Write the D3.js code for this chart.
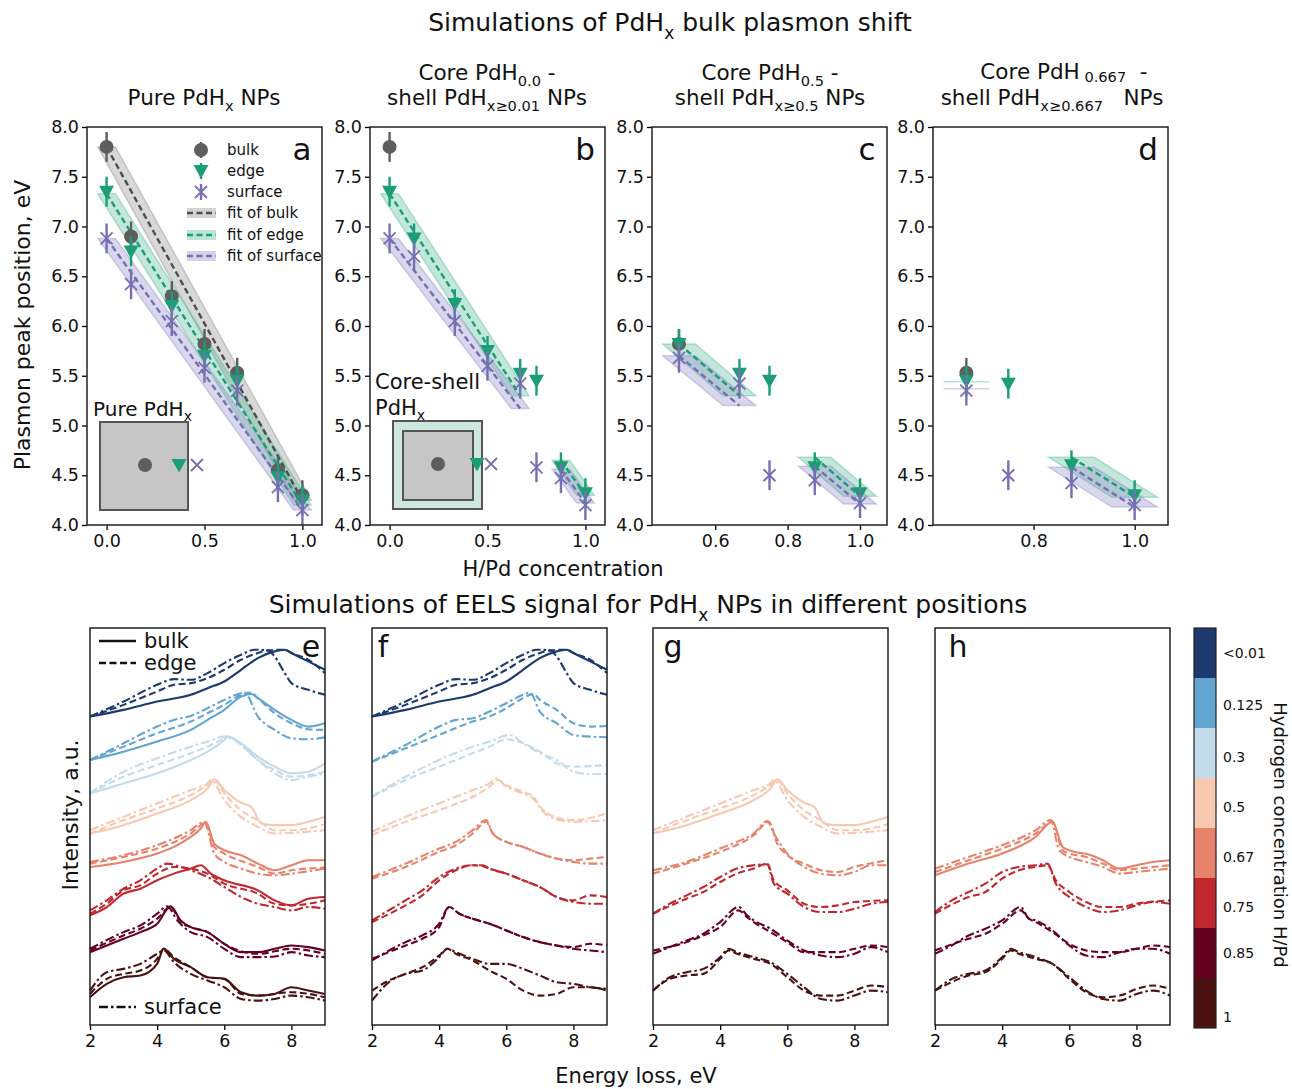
<!DOCTYPE html>
<html><head><meta charset="utf-8">
<script src="https://cdn.jsdelivr.net/npm/d3@7"></script>
<style>body{margin:0;background:#fff} text{font-family:"DejaVu Sans",sans-serif;fill:#111;white-space:pre}</style>
</head><body><svg id="c" width="1292" height="1089"></svg>
<script>
// ---------- top panels data (plasmon peak position, eV) ----------
const concA = [0, 0.125, 0.333, 0.5, 0.667, 0.875, 1.0];
const bulkA = [7.8, 6.9, 6.3, 5.82, 5.53, 4.55, 4.3];
const edgeA = [7.35, 6.75, 6.2, 5.7, 5.45, 4.48, 4.25];
const surfA = [6.88, 6.42, 6.05, 5.58, 5.35, 4.38, 4.15];

const concB = [0, 0.125, 0.333, 0.5, 0.667, 0.75, 0.875, 1.0];
const bulkBx = [0], bulkB = [7.8];
const edgeB = [7.35, 6.88, 6.22, 5.75, 5.52, 5.45, 4.58, 4.32];
const surfB = [6.88, 6.7, 6.05, 5.6, 5.42, 4.58, 4.47, 4.2];

const concC = [0.5, 0.667, 0.75, 0.875, 1.0];
const bulkCx = [0.5], bulkC = [5.82];
const edgeC = [5.82, 5.52, 5.45, 4.58, 4.32];
const surfC = [5.68, 5.42, 4.5, 4.45, 4.22];

const concD = [0.667, 0.75, 0.875, 1.0];
const bulkDx = [0.667], bulkD = [5.53];
const edgeD = [5.45, 5.42, 4.6, 4.3];
const surfD = [5.35, 4.5, 4.42, 4.2];

const errHalf = 0.15;      // eV
const bandHalf = 0.045;    // H/Pd
// fits: [kind, x0, y0, x1, y1]
const fitsA = [["bulk",0,7.8,1,4.25],["edge",0,7.33,1,4.2],["surf",0,6.88,1,4.15]];
const fitsB = [["edge",0,7.33,0.667,5.3],["surf",0,6.88,0.667,5.17],["edge",0.875,4.65,1,4.3],["surf",0.875,4.56,1,4.22]];
const fitsC = [["edge",0.5,5.82,0.667,5.3],["surf",0.5,5.7,0.667,5.2],["edge",0.875,4.68,1,4.29],["surf",0.875,4.59,1,4.21]];
const fitsD = [["edge",0.667,5.44,0.667,5.44],["surf",0.667,5.37,0.667,5.37],["edge",0.875,4.68,1,4.28],["surf",0.875,4.58,1,4.18]];

const yTicksTop = [4.0,4.5,5.0,5.5,6.0,6.5,7.0,7.5,8.0];
const xTicksAB = [0.0,0.5,1.0], xTicksC = [0.6,0.8,1.0], xTicksD = [0.8,1.0];

// ---------- bottom panels data (EELS intensity, a.u.) ----------
const c001_b = [[2,91],[3,93],[4,95.5],[5,97.5],[5.5,99.5],[6,101.5],[6.5,105],[7,108.5],[7.5,110.5],[7.8,111],[8,110],[8.5,107.5],[9,105]];
const c001_e = [[2,91],[3,94.5],[4,98.5],[4.5,100.5],[5,101],[5.5,102.5],[6,105],[6.5,108],[7,110],[7.3,110.8],[7.8,111],[8,110],[8.5,108],[9,104]];
const c001_s = [[2,91],[3,95.5],[4,100.5],[4.5,102.2],[5,102],[5.5,104],[6,107],[6.5,109.5],[6.9,111],[7.3,110.8],[7.5,109],[7.8,104],[8,101],[8.5,99],[9,97.5]];
const c0125_b = [[2,78],[3,80.5],[4,83.5],[5,87],[5.5,90],[6,93],[6.5,97],[6.8,97.8],[7,96.5],[7.5,93],[8,90],[8.5,88],[9,89]];
const c0125_e = [[2,78],[3,82],[4,86],[5,89.5],[5.5,92],[6,94.5],[6.5,97.5],[6.8,98.2],[7,96.5],[7.5,92],[8,89],[8.5,87.2],[9,87]];
const c0125_s = [[2,78],[3,83],[4,88],[4.5,90],[5,91.2],[5.5,93.5],[6,96],[6.5,98],[6.6,98.2],[7,91],[7.5,87],[8,84.5],[8.5,84.2],[9,84.8]];
const c03_b = [[2,68],[3,71],[4,74],[5,78],[5.5,80.5],[6,84],[6.1,85],[6.5,83],[7,79],[7.5,76],[8,74],[8.5,74.5],[9,77]];
const c03_e = [[2,68],[3,73],[4,76.5],[5,80],[5.5,82],[6,84.5],[6.1,85],[6.5,82.5],[7,78],[7.5,75],[8,73],[9,74.5]];
const c03_s = [[2,68],[3,74.5],[4,78.5],[5,82],[5.5,83.5],[6,85],[6.3,84],[7,78],[7.5,74],[8,72],[8.5,73],[9,74]];
const c05_b = [[2,56],[3,58.5],[4,62],[5,66],[5.5,69.5],[5.7,72.2],[6,69],[6.5,65.2],[6.8,64],[7.1,59],[7.5,58.5],[8,58.5],[8.5,59.5],[9,61]];
const c05_e = [[2,56],[3,60],[4,63.5],[5,67.5],[5.5,70.5],[5.7,72],[6,68],[6.5,63],[7,60],[7.5,57],[8,57],[9,58.8]];
const c05_s = [[2,57],[3,61],[4,65],[5,69],[5.5,71],[5.6,72],[6,66],[6.5,61],[7,58],[7.5,56],[8,56.2],[9,57]];
const c067_b = [[2,46],[3,47.5],[4,50],[4.5,52],[5,55],[5.3,57.5],[5.45,59.5],[5.7,53],[6,51],[6.5,49.5],[7,47],[7.5,45],[8,46.5],[8.5,48],[9,48]];
const c067_e = [[2,47],[3,49],[4,51.5],[5,56],[5.45,59.2],[5.7,52],[6,50],[7,46],[7.5,44],[8,45],[9,45.8]];
const c067_s = [[2,47.5],[3,49.5],[4,52.5],[5,57],[5.4,59.5],[5.7,50],[6,47.5],[6.5,45.5],[7,44],[7.5,43.5],[8,44],[9,45.5]];
const c075_b = [[2,31.5],[2.5,34],[3,38],[3.5,39.5],[4,42],[4.5,44],[5,45.5],[5.3,46.5],[5.6,44],[6,42],[7,39],[7.5,36],[8,34.5],[8.5,36.5],[9,37]];
const c075_e = [[2,32],[2.5,35],[3,39],[3.5,40.5],[4,44],[4.5,46],[5,45.5],[5.5,44],[6,41],[7,38],[7.5,35],[8,34.5],[9,36]];
const c075_s = [[2,33],[2.5,36],[3,39.5],[3.5,42],[4,45.5],[4.3,47],[4.7,46],[5,45],[5.5,43],[6,40],[6.5,37],[7,35],[7.5,34],[8,33],[8.5,34],[9,33.5]];
const c085_b = [[2,20.5],[2.5,22.5],[3,24.5],[3.5,26.5],[4,29],[4.4,34.2],[4.7,30],[5,28],[5.5,26.5],[6,23],[6.5,20.5],[7,20.5],[7.5,21.5],[8,22.5],[8.5,22],[9,21]];
const c085_e = [[2,21],[3,25.5],[3.5,27.5],[4,30.5],[4.4,34],[4.7,29.5],[5,28],[5.5,26.5],[6,23],[7,20],[8,21.5],[9,20]];
const c085_s = [[2,21.5],[3,26.5],[3.5,28.5],[4,32],[4.3,34.2],[4.6,30],[5,26.5],[5.5,25],[6,21.5],[6.5,19],[7,19],[7.5,19.2],[8,20.5],[8.5,19.5],[9,19]];
const c1_b = [[2,7],[2.5,11],[3,13],[3.5,13.5],[4,17],[4.2,21.5],[4.5,18.5],[5,16],[5.5,13],[6,12.5],[6.5,8.5],[7,7.5],[7.5,8],[8,10],[8.5,9],[9,8]];
const c1_e = [[2,8],[2.5,12.5],[3,14],[3.5,15],[4,18.5],[4.2,21.5],[4.5,19],[5,16],[5.5,13],[6,12.5],[6.5,8],[7,7.5],[8,8.5],[9,7]];
const c1_s = [[2,9],[2.5,14.5],[3,15.5],[3.5,17],[4,20],[4.2,21],[4.5,17.5],[5,14],[5.5,12],[6,10],[6.5,6.5],[7,6],[7.5,6.5],[8,7.5],[8.5,7],[9,6]];

const f0125_e = [[2,77.5],[3,81.5],[4,85.5],[5,89.5],[5.5,91],[6,93.5],[6.5,96.5],[6.8,97.8],[7,96],[7.5,93],[8,89],[8.5,88],[9,88.2]];
const f0125_s = [[2,77.5],[3,82.5],[4,88],[4.5,90],[5,90.5],[5.5,92.5],[6,95],[6.5,97.5],[6.7,98.2],[7,92.5],[7.5,89],[8,85.5],[8.5,85],[9,84.8]];
const f03_e = [[2,67],[3,72],[4,76],[5,80],[5.5,82],[6,84.2],[6.5,83],[7,80.5],[7.5,77],[8,76],[9,76.5]];
const f03_s = [[2,67],[3,73],[4,78],[5,82],[5.5,83.5],[6.1,85.5],[6.5,83],[7,80],[7.5,78],[8,74.5],[8.5,73.8],[9,73.8]];
const f05_e = [[2,55.5],[3,59.5],[4,63],[5,67],[5.5,70],[5.75,72],[6,70.5],[6.5,68.5],[6.8,67],[7.1,63],[7.6,60.5],[8,60],[9,62]];
const f05_s = [[2,56.5],[3,61],[4,65],[5,69],[5.5,71],[5.7,72.5],[6,70],[6.5,68],[6.8,66.5],[7.1,62.5],[7.6,60],[8,59.5],[9,60]];
const f067_e = [[2,42.5],[3,46],[4,50.5],[4.5,52.5],[5,56],[5.4,59.5],[5.6,56],[6,53.5],[6.5,52],[7,50],[7.5,48.5],[8,48],[8.5,48.5],[9,49]];
const f067_s = [[2,43],[3,47],[4,51.5],[4.5,53.5],[5,57],[5.4,60],[5.6,56],[6,53.5],[6.5,52],[7,50],[7.5,48.5],[8,47.5],[8.5,47],[9,47]];
const f075_e = [[2,29.5],[3,34.5],[3.5,37.5],[4,42],[4.5,45],[5,46.5],[5.3,46.2],[5.5,45.5],[6,44],[6.5,42],[7,40],[7.5,37],[8,36],[8.5,37.5],[9,37]];
const f075_s = [[2,30],[3,36],[3.5,39],[4,43],[4.5,45.5],[5,46.5],[5.3,46.5],[5.5,45.5],[6,44],[6.5,42],[7,40],[7.5,37],[8,35.5],[8.5,35],[9,35]];
const f085_e = [[2,18.5],[3,22.5],[3.5,24.5],[4,28],[4.3,34],[4.6,32],[5,30.5],[5.5,29],[6,27],[6.5,25],[7,23.5],[7.5,22.5],[8,22],[8.5,23],[9,22.5]];
const f085_s = [[2,18],[3,23.5],[3.5,25.5],[4,29],[4.3,34],[4.6,32],[5,30.5],[5.5,29],[6,27],[6.5,25],[7,23.5],[7.5,22.5],[8,21.5],[8.5,21],[9,20.5]];
const f1_e = [[2,9],[2.5,12],[3,14],[3.5,16],[4,19.5],[4.25,21.5],[4.5,20],[5,18],[5.5,15],[6,12.5],[6.5,9],[7,7.5],[7.5,8],[8,10],[8.5,10],[9,9]];
const f1_s = [[2,6],[2.5,11.5],[3,14],[3.5,15],[4,19],[4.25,21.5],[4.5,20.5],[5,18.5],[5.5,17],[6,17],[6.5,15.5],[7,13.5],[7.5,11.5],[8,11],[8.5,10],[9,9.5]];

const g067_e = [[2,44],[3,47],[4,50.5],[5,55.5],[5.45,59.5],[5.7,53],[6,49.5],[6.5,47],[7,45],[7.5,44.5],[8,46],[9,48]];
const g067_s = [[2,45],[3,47.5],[4,51.5],[4.5,53.5],[5,56],[5.4,59.7],[5.6,56],[6,50],[6.5,46],[7,44],[7.5,43.5],[8,44.5],[8.5,46.5],[9,46.5]];
const g075_e = [[2,32],[3,36.5],[3.5,38.5],[4,41.5],[4.5,44],[5,45.5],[5.4,47],[5.6,42],[6,39],[6.5,35],[7,34],[7.5,34.5],[8,35.5],[9,36]];
const g075_s = [[2,32],[2.5,35],[3,37.5],[3.5,40],[4,43],[4.5,45.5],[5,46.5],[5.4,46.8],[5.6,41],[6,38],[6.5,34],[7,32.5],[7.5,32.5],[8,33.5],[8.5,35],[9,35.5]];
const g085_e = [[2,21],[3,23.5],[3.5,25.5],[4,28],[4.55,33],[4.8,31],[5,29.5],[5.5,26.5],[6,23.5],[6.5,20.5],[7,20.5],[7.5,20.5],[8,21.5],[8.5,22.5],[9,22]];
const g085_s = [[2,20],[3,24],[3.5,26],[4,29.5],[4.55,34],[4.8,31.5],[5,30],[5.5,27.5],[6,24],[6.5,21],[7,19.5],[7.5,19],[8,20],[8.5,22],[9,20.5]];
const g1_e = [[2,9],[2.5,12.5],[3,13.5],[3.5,14],[4,18.5],[4.25,21],[4.5,20],[5,18.5],[5.5,17],[6,13],[6.5,9],[7,7.5],[7.5,7.5],[8,9],[8.5,10.5],[9,10]];
const g1_s = [[2,9],[2.5,13],[3,14.5],[3.5,15.5],[4,19],[4.25,21.5],[4.5,20.5],[5,19],[5.5,17.5],[6,14],[6.5,10],[7,6.5],[7.5,6],[8,7.5],[8.5,9],[9,8.5]];

const h067_b = [[2,43.5],[3,47],[4,50],[5,55],[5.5,59.5],[5.8,52],[6,51],[6.65,49.5],[7,48],[7.5,45.5],[8,46.5],[8.5,47.5],[9,48]];
const h067_e = [[2,44.5],[3,48],[4,51.5],[5,56],[5.5,59.5],[5.8,51],[6,50],[6.5,49],[7,47],[7.5,45],[8,45.5],[9,46.5]];
const h067_s = [[2,45.5],[3,49],[4,52.5],[5,57],[5.45,60],[5.7,51],[6,49],[6.5,47.5],[7,46],[7.5,44],[8,44.5],[9,45.5]];
const h075_e = [[2,32],[3,37],[3.5,38.5],[4,42.5],[4.5,45],[5,46],[5.35,46.5],[5.6,42],[6,38.5],[6.5,35.5],[7,34],[7.5,34],[8,35],[9,36]];
const h075_s = [[2,32.5],[2.5,36],[3,38.5],[3.5,41],[4,44.5],[4.5,46],[5,46.5],[5.35,47],[5.6,41],[6,37],[6.5,34],[7,32.5],[7.5,33],[8,34.5],[8.5,35.5],[9,35]];
const h085_e = [[2,21],[3,24.5],[3.5,26],[4,29],[4.55,33],[4.8,30.5],[5,29.5],[5.5,26.5],[6,23],[6.5,21],[7,20.5],[7.5,20.5],[8,21.5],[8.5,22.5],[9,22]];
const h085_s = [[2,20],[2.5,22.5],[3,25.5],[3.5,27.5],[4,30],[4.55,34],[4.8,30.5],[5,30],[5.5,27],[6,22.5],[6.5,19.5],[7,19],[7.5,20.5],[8,21.5],[8.5,21.5],[9,20]];
const h1_e = [[2,9],[3,13.5],[3.5,14.5],[4,18.5],[4.25,21],[4.5,20],[5,18.5],[5.5,17],[6,12.5],[6.5,8.5],[7,7],[7.5,7.5],[8,9.5],[8.5,10.5],[9,9.5]];
const h1_s = [[2,9],[2.5,12.5],[3,14],[3.5,15],[4,19],[4.25,21.5],[4.5,20.5],[5,19],[5.5,17],[6,13],[6.5,9],[7,6.5],[7.5,6],[8,8],[8.5,9],[9,7.5]];

const panelE = [["<0.01","bulk",c001_b],["<0.01","edge",c001_e],["<0.01","surf",c001_s],
  ["0.125","bulk",c0125_b],["0.125","edge",c0125_e],["0.125","surf",c0125_s],
  ["0.3","bulk",c03_b],["0.3","edge",c03_e],["0.3","surf",c03_s],
  ["0.5","bulk",c05_b],["0.5","edge",c05_e],["0.5","surf",c05_s],
  ["0.67","bulk",c067_b],["0.67","edge",c067_e],["0.67","surf",c067_s],
  ["0.75","bulk",c075_b],["0.75","edge",c075_e],["0.75","surf",c075_s],
  ["0.85","bulk",c085_b],["0.85","edge",c085_e],["0.85","surf",c085_s],
  ["1","bulk",c1_b],["1","edge",c1_e],["1","surf",c1_s]];
const panelF = [["<0.01","bulk",c001_b],["<0.01","edge",c001_e],["<0.01","surf",c001_s],
  ["0.125","edge",f0125_e],["0.125","surf",f0125_s],["0.3","edge",f03_e],["0.3","surf",f03_s],
  ["0.5","edge",f05_e],["0.5","surf",f05_s],["0.67","edge",f067_e],["0.67","surf",f067_s],
  ["0.75","edge",f075_e],["0.75","surf",f075_s],["0.85","edge",f085_e],["0.85","surf",f085_s],
  ["1","edge",f1_e],["1","surf",f1_s]];
const panelG = [["0.5","bulk",c05_b],["0.5","edge",c05_e],["0.5","surf",c05_s],
  ["0.67","edge",g067_e],["0.67","surf",g067_s],["0.75","edge",g075_e],["0.75","surf",g075_s],
  ["0.85","edge",g085_e],["0.85","surf",g085_s],["1","edge",g1_e],["1","surf",g1_s]];
const panelH = [["0.67","bulk",h067_b],["0.67","edge",h067_e],["0.67","surf",h067_s],
  ["0.75","edge",h075_e],["0.75","surf",h075_s],["0.85","edge",h085_e],["0.85","surf",h085_s],
  ["1","edge",h1_e],["1","surf",h1_s]];

const concLabels = ["<0.01","0.125","0.3","0.5","0.67","0.75","0.85","1"];
const concColors = ["#1c3a6e","#62a5d1","#c3dcec","#f8c8b1","#e6836a","#c1272e","#66001f","#4a1111"];
const cbLabelPos = [0.5,1.54,2.58,3.58,4.58,5.58,6.5,7.78];
const xTicksEELS = [2,4,6,8];

// ---------- drawing ----------
const svg = d3.select("#c");
const COL = {bulk:"#5e5e5e", edge:"#1b9e77", surf:"#7570b3"};
const FITCOL = {bulk:"#4d4d4d", edge:"#1b9e77", surf:"#7570b3"};
const BANDCOL = {bulk:"#8c8c8c", edge:"#4fb896", surf:"#8f8bc6"};

function rich(x, y, parts, size, anchor) {
  const t = svg.append("text").attr("x", x).attr("y", y).attr("font-size", size).attr("text-anchor", anchor || "middle");
  let shift = 0;
  parts.forEach(p => {
    const ts = t.append("tspan").text(p[0]);
    if (p[1] === "s" || p[1] === "t") {
      const d = size * (p[1] === "s" ? 0.3 : 0.12);
      ts.attr("font-size", size * 0.68).attr("dy", d); shift = d;
    } else if (shift) { ts.attr("dy", -shift); shift = 0; }
  });
  return t;
}

function drawMarker(g, kind, x, y) {
  if (kind === "bulk") g.append("circle").attr("cx", x).attr("cy", y).attr("r", 7).attr("fill", COL.bulk);
  else if (kind === "edge") g.append("path").attr("d", `M${x-7.5},${y-6}L${x+7.5},${y-6}L${x},${y+7.5}Z`).attr("fill", COL.edge);
  else g.append("path").attr("d", `M${x-6},${y-6}L${x+6},${y+6}M${x-6},${y+6}L${x+6},${y-6}`)
        .attr("stroke", COL.surf).attr("stroke-width", 1.8).attr("fill", "none");
}

const yTop = d3.scaleLinear().domain([4, 8]).range([525, 127]);
const topPanels = [
  {left: 87, dom: [-0.1, 1.1], xt: xTicksAB, letter: "a", fits: fitsA,
   series: [["bulk", concA, bulkA], ["edge", concA, edgeA], ["surf", concA, surfA]]},
  {left: 370, dom: [-0.1, 1.1], xt: xTicksAB, letter: "b", fits: fitsB,
   series: [["bulk", bulkBx, bulkB], ["edge", concB, edgeB], ["surf", concB, surfB]]},
  {left: 652, dom: [0.4255, 1.0745], xt: xTicksC, letter: "c", fits: fitsC,
   series: [["bulk", bulkCx, bulkC], ["edge", concC, edgeC], ["surf", concC, surfC]]},
  {left: 933, dom: [0.601, 1.066], xt: xTicksD, letter: "d", fits: fitsD,
   series: [["bulk", bulkDx, bulkD], ["edge", concD, edgeD], ["surf", concD, surfD]]}
];
const W = 235;

topPanels.forEach(p => {
  const x = d3.scaleLinear().domain(p.dom).range([p.left, p.left + W]);
  p.x = x;
  const g = svg.append("g");
  p.fits.forEach(f => {
    const [k, x0, y0, x1, y1] = f;
    const pts = [[x0 - bandHalf, y0], [x0 + bandHalf, y0], [x1 + bandHalf, y1], [x1 - bandHalf, y1]];
    g.append("path").attr("d", "M" + pts.map(q => x(q[0]) + "," + yTop(q[1])).join("L") + "Z")
      .attr("fill", BANDCOL[k]).attr("fill-opacity", 0.34)
      .attr("stroke", BANDCOL[k]).attr("stroke-opacity", 0.4).attr("stroke-width", 1.5);
  });
  p.fits.forEach(f => {
    const [k, x0, y0, x1, y1] = f;
    if (x0 === x1) return;
    g.append("line").attr("x1", x(x0)).attr("y1", yTop(y0)).attr("x2", x(x1)).attr("y2", yTop(y1))
      .attr("stroke", FITCOL[k]).attr("stroke-width", 2.4).attr("stroke-dasharray", "6,3.5");
  });
  p.series.forEach(s => {
    const [k, xs, ys] = s;
    xs.forEach((xv, i) => {
      g.append("line").attr("x1", x(xv)).attr("x2", x(xv))
        .attr("y1", yTop(ys[i] - errHalf)).attr("y2", yTop(ys[i] + errHalf))
        .attr("stroke", COL[k]).attr("stroke-width", 2.4);
      drawMarker(g, k, x(xv), yTop(ys[i]));
    });
  });
  const ax = svg.append("g").attr("transform", `translate(0,525)`)
    .call(d3.axisBottom(x).tickValues(p.xt).tickFormat(d3.format(".1f")).tickSize(5).tickSizeOuter(0).tickPadding(5));
  const ay = svg.append("g").attr("transform", `translate(${p.left},0)`)
    .call(d3.axisLeft(yTop).tickValues(yTicksTop).tickFormat(d3.format(".1f")).tickSize(5).tickSizeOuter(0).tickPadding(3));
  [ax, ay].forEach(a => { a.select(".domain").remove(); a.selectAll("text").attr("font-size", 17.5).style("font-family", "DejaVu Sans"); a.selectAll("line").attr("stroke-width", 1.3); });
  svg.append("rect").attr("x", p.left).attr("y", 127).attr("width", W).attr("height", 398)
    .attr("fill", "none").attr("stroke", "#222").attr("stroke-width", 1.5);
  svg.append("text").attr("x", p.left + W - 20).attr("y", 160).attr("font-size", 31).attr("text-anchor", "middle").text(p.letter);
});

// insets
(function(){
  svg.append("text").attr("x", 93).attr("y", 416).attr("font-size", 20).text("Pure PdH").append("tspan").attr("font-size", 14).attr("dy", 5).text("x");
  svg.append("rect").attr("x", 100).attr("y", 422).attr("width", 88).attr("height", 88).attr("fill", "#c6c6c6").attr("stroke", "#555").attr("stroke-width", 2);
  const ga = svg.append("g");
  drawMarker(ga, "bulk", 145, 465); drawMarker(ga, "edge", 179, 465); drawMarker(ga, "surf", 197, 465);
  svg.append("text").attr("x", 375).attr("y", 389).attr("font-size", 21).text("Core-shell");
  svg.append("text").attr("x", 375).attr("y", 415).attr("font-size", 21).text("PdH").append("tspan").attr("font-size", 14).attr("dy", 5).text("x");
  svg.append("rect").attr("x", 393).attr("y", 421).attr("width", 89).attr("height", 88).attr("fill", "#cfe8de").attr("stroke", "#555").attr("stroke-width", 2);
  svg.append("rect").attr("x", 403).attr("y", 431).attr("width", 70).attr("height", 69).attr("fill", "#c6c6c6").attr("stroke", "#555").attr("stroke-width", 2);
  const gb = svg.append("g");
  drawMarker(gb, "bulk", 438, 464); drawMarker(gb, "edge", 477, 464); drawMarker(gb, "surf", 491, 464);
})();

// legend in a
(function(){
  const lg = svg.append("g");
  const rows = [["bulk","bulk",150],["edge","edge",171],["surf","surface",192]];
  rows.forEach(r => {
    lg.append("line").attr("x1", 201).attr("x2", 201).attr("y1", r[2]-8).attr("y2", r[2]+8).attr("stroke", COL[r[0]]).attr("stroke-width", 2.4);
    drawMarker(lg, r[0], 201, r[2]);
    lg.append("text").attr("x", 227).attr("y", r[2] + 5).attr("font-size", 15).text(r[1]);
  });
  const fr = [["bulk","fit of bulk",213],["edge","fit of edge",235],["surf","fit of surface",256]];
  fr.forEach(r => {
    lg.append("rect").attr("x", 187).attr("y", r[2]-5).attr("width", 29).attr("height", 10).attr("fill", BANDCOL[r[0]]).attr("fill-opacity", 0.38);
    lg.append("line").attr("x1", 187).attr("x2", 216).attr("y1", r[2]).attr("y2", r[2]).attr("stroke", FITCOL[r[0]]).attr("stroke-width", 2.3).attr("stroke-dasharray", "6,3.5");
    lg.append("text").attr("x", 227).attr("y", r[2] + 5).attr("font-size", 15).text(r[1]);
  });
})();

// titles top
rich(670, 31, [["Simulations of PdH","n"],["x","s"],[" bulk plasmon shift","n"]], 25);
rich(204, 105, [["Pure PdH","n"],["x","s"],[" NPs","n"]], 21.5);
rich(487, 80, [["Core PdH","n"],["0.0","s"],[" -","n"]], 21.5);
rich(487, 105, [["shell PdH","n"],["x≥0.01","s"],[" NPs","n"]], 21.5);
rich(770, 80, [["Core PdH","n"],["0.5","s"],[" -","n"]], 21.5);
rich(770, 105, [["shell PdH","n"],["x≥0.5","s"],[" NPs","n"]], 21.5);
rich(1064, 79, [["Core PdH","n"],[" 0.667","t"],["  -","n"]], 21.5);
rich(1052, 105, [["shell PdH","n"],["x≥0.667","s"],["   NPs","n"]], 21.5);
svg.append("text").attr("transform", "translate(30,325) rotate(-90)").attr("text-anchor", "middle").attr("font-size", 22).text("Plasmon peak position, eV");
svg.append("text").attr("x", 563).attr("y", 576).attr("text-anchor", "middle").attr("font-size", 21).text("H/Pd concentration");

// ---------- bottom panels ----------
rich(648, 613, [["Simulations of EELS signal for PdH","n"],["x","s"],[" NPs in different positions","n"]], 25);
const yB = d3.scaleLinear().domain([-1.3, 117.5]).range([1025, 628]);
const DASH = {bulk: null, edge: "7,3.5", surf: "9,3,2.5,3"};
const colorOf = d3.scaleOrdinal().domain(concLabels).range(concColors);
const botPanels = [{left: 90, data: panelE, letter: "e", lx: 311}, {left: 372, data: panelF, letter: "f", lx: 383},
                   {left: 653, data: panelG, letter: "g", lx: 673}, {left: 935, data: panelH, letter: "h", lx: 958}];
botPanels.forEach(p => {
  const x = d3.scaleLinear().domain([2, 9]).range([p.left, p.left + W]);
  const line = d3.line().x(d => x(d[0])).y(d => yB(d[1])).curve(d3.curveMonotoneX);
  const g = svg.append("g");
  p.data.slice().reverse().forEach(c => {
    g.append("path").attr("d", line(c[2])).attr("fill", "none").attr("stroke", colorOf(c[0]))
      .attr("stroke-width", 2.1).attr("stroke-dasharray", DASH[c[1]]).attr("stroke-linejoin", "round");
  });
  const ax = svg.append("g").attr("transform", "translate(0,1025)")
    .call(d3.axisBottom(x).tickValues(xTicksEELS).tickFormat(d3.format("d")).tickSize(5).tickSizeOuter(0).tickPadding(5));
  ax.select(".domain").remove(); ax.selectAll("text").attr("font-size", 17.5).style("font-family", "DejaVu Sans"); ax.selectAll("line").attr("stroke-width", 1.3);
  svg.append("rect").attr("x", p.left).attr("y", 628).attr("width", W).attr("height", 397)
    .attr("fill", "none").attr("stroke", "#222").attr("stroke-width", 1.5);
  svg.append("text").attr("x", p.lx).attr("y", 657).attr("font-size", 30).attr("text-anchor", "middle").text(p.letter);
});
// legend e
[["bulk","bulk",641],["edge","edge",663],["surf","surface",1007]].forEach(r => {
  svg.append("line").attr("x1", 99).attr("x2", 136).attr("y1", r[2]).attr("y2", r[2]).attr("stroke", "#111").attr("stroke-width", 2.3).attr("stroke-dasharray", DASH[r[0]]);
  svg.append("text").attr("x", 144).attr("y", r[2] + 7).attr("font-size", 21).text(r[1]);
});
svg.append("text").attr("transform", "translate(78,815) rotate(-90)").attr("text-anchor", "middle").attr("font-size", 22).text("Intensity, a.u.");
svg.append("text").attr("x", 636).attr("y", 1083).attr("text-anchor", "middle").attr("font-size", 21).text("Energy loss, eV");

// colorbar
const cb = d3.scaleBand().domain(concLabels).range([628, 1028]);
const cbPos = d3.scaleLinear().domain([0, 8]).range([628, 1028]);
concLabels.forEach((c, i) => {
  svg.append("rect").attr("x", 1194).attr("y", cb(c)).attr("width", 22).attr("height", cb.bandwidth()).attr("fill", concColors[i]);
  svg.append("text").attr("x", 1223).attr("y", cbPos(cbLabelPos[i]) + 5).attr("font-size", 14).text(c);
});
svg.append("rect").attr("x", 1194).attr("y", 628).attr("width", 22).attr("height", 400).attr("fill", "none").attr("stroke", "#222").attr("stroke-width", 1.2);
svg.append("text").attr("transform", "translate(1274,835) rotate(90)").attr("text-anchor", "middle").attr("font-size", 18).text("Hydrogen concentration H/Pd");
</script></body></html>
